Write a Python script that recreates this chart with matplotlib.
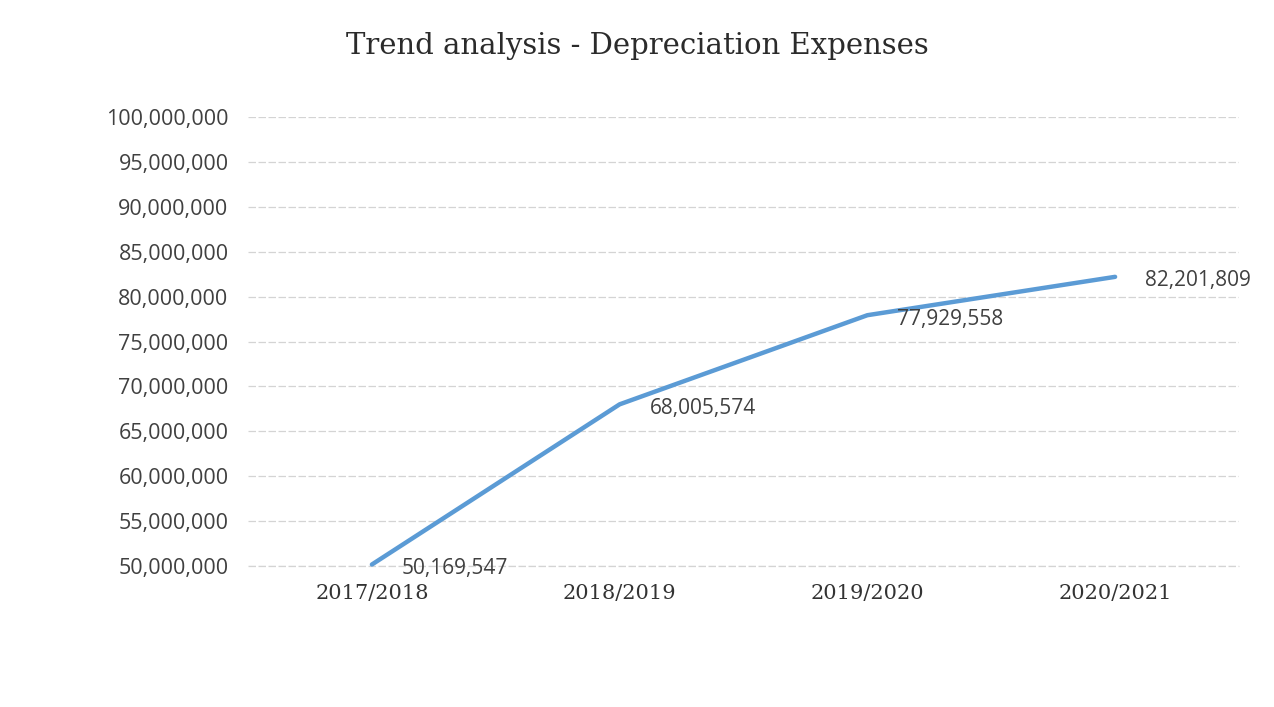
import matplotlib
matplotlib.use("Agg")
import matplotlib.pyplot as plt
from matplotlib.ticker import FuncFormatter, MultipleLocator

# Depreciation expenses by financial year
years = ["2017/2018", "2018/2019", "2019/2020", "2020/2021"]
expenses = [50169547, 68005574, 77929558, 82201809]

fig = plt.figure(figsize=(12.74, 7.07), dpi=100)
fig.patch.set_facecolor("white")
ax = fig.add_axes([0.1947, 0.1994, 0.7778, 0.6351])

x = list(range(len(years)))
ax.plot(x, expenses, color="#5B9BD5", linewidth=3.2, solid_capstyle="round",
        solid_joinstyle="round", clip_on=False, zorder=3)

for xi, v in zip(x, expenses):
    ax.annotate(f"{v:,}", (xi, v), xytext=(30, -4), textcoords="offset pixels",
                ha="left", va="center", fontsize=15, family="Open Sans",
                color="#404040", zorder=4)

ax.set_xlim(-0.5, len(years) - 0.5)
ax.set_ylim(50000000, 100000000)
ax.yaxis.set_major_locator(MultipleLocator(5000000))
ax.yaxis.set_major_formatter(FuncFormatter(lambda v, p: f"{int(v):,}"))
ax.set_xticks(x)
ax.set_xticklabels(years, family="DejaVu Serif", fontsize=15, color="#333333")

for lbl in ax.get_yticklabels():
    lbl.set_family("Open Sans")
    lbl.set_fontsize(15.5)
    lbl.set_color("#404040")

ax.grid(axis="y", color="#d4d4d4", linewidth=0.9, linestyle=(0, (6, 2)))
ax.axhline(50000000, color="#d4d4d4", linewidth=0.9, linestyle=(0, (6, 2)),
           clip_on=False, zorder=1)
ax.set_axisbelow(True)
ax.tick_params(axis="both", length=0)
ax.tick_params(axis="y", pad=14)
ax.tick_params(axis="x", pad=13)
for s in ax.spines.values():
    s.set_visible(False)

fig.text(0.5, 0.935, "Trend analysis - Depreciation Expenses", ha="center",
         va="center", family="DejaVu Serif", fontsize=21, color="#2b2b2b")

fig.savefig("out.png", dpi=100, facecolor="white")
